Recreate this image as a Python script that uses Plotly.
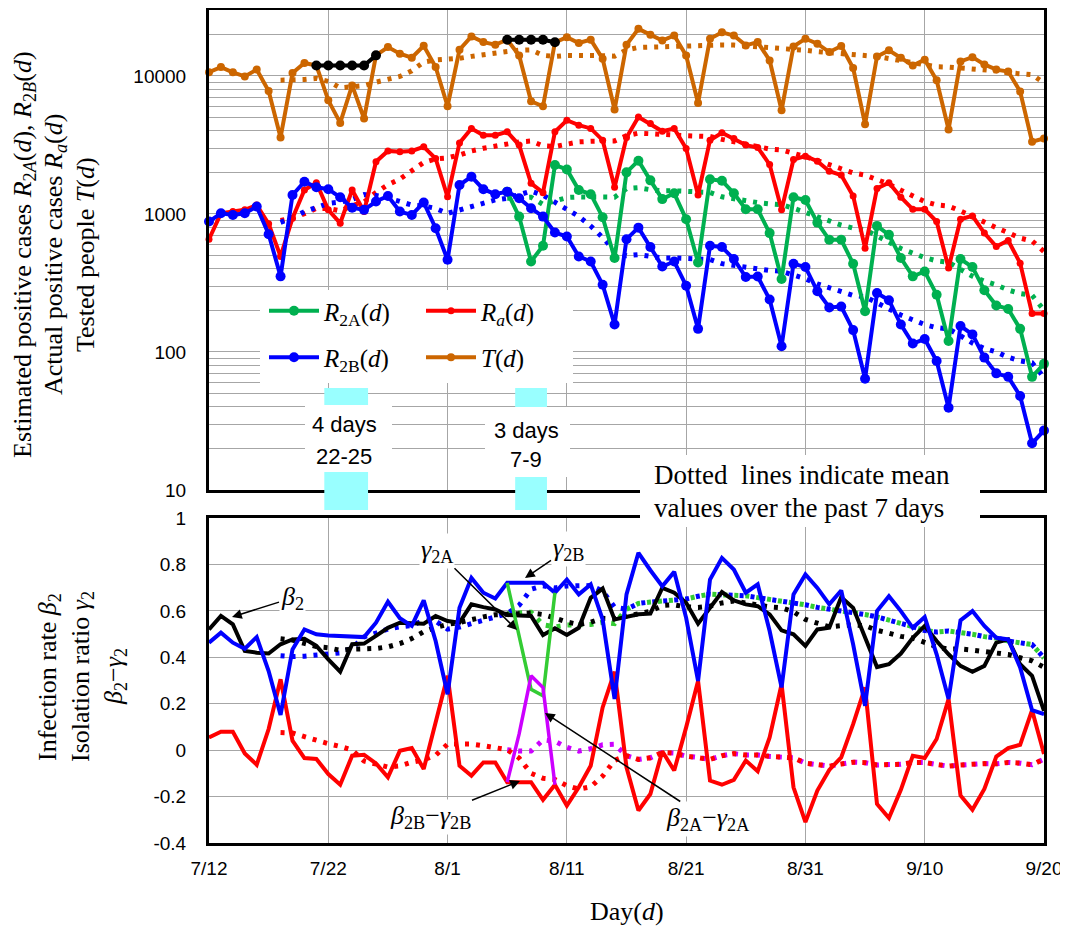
import pandas as pd
import plotly.graph_objects as go

# ---------------- data ----------------
DATES = [d.strftime("%Y-%m-%d") for d in pd.date_range("2020-07-12", "2020-09-20", freq="D")]
TICK_DATES = ["2020-07-12", "2020-07-22", "2020-08-01", "2020-08-11",
              "2020-08-21", "2020-08-31", "2020-09-10", "2020-09-20"]
TICK_LABELS = ["7/12", "7/22", "8/1", "8/11", "8/21", "8/31", "9/10", "9/20"]
TOP_TICKS = [10, 100, 1000, 10000]
TOP_TICK_LABELS = ["10", "100", "1000", "10000"]
BOT_TICKS = [-0.4, -0.2, 0, 0.2, 0.4, 0.6, 0.8, 1]
BOT_TICK_LABELS = ["-0.4", "-0.2", "0", "0.2", "0.4", "0.6", "0.8", "1"]

N = None
# Tested people T(d)
T = [10640, 11580, 10600, 9910, 11100, 7770, 3580, 10480, 12400, 11900,
     6650, 4560, 8530, 4910, 14080, 16150, 14470, 13530, 16500, 11600,
     6020, 15460, 19280, 17560, 16810, 18280, 14060, 6540, 6020, 17500,
     19080, 17300, 18300, 13300, 5700, 16800, 21900, 19850, 18000, 19600,
     14060, 6370, 18590, 20690, 19600, 16620, 17560, 12940, 5630, 16330,
     18590, 17100, 14880, 16440, 11400, 4470, 13820, 15300, 13530, 11900,
     13100, 9300, 4090, 12720, 13660, 12100, 11100, 10760, 7710, 3330, 3520]
T_MEAN = [N] * 6 + [
    9311, 9289, 9406, 9591, 9126, 8191, 8300, 8490, 9004, 9540,
    9907, 10890, 12596, 13034, 13193, 13390, 13837, 14279, 14747, 15001,
    15353, 15427, 14079, 13824, 14041, 14111, 14114, 14006, 13886, 15426,
    16054, 16164, 16264, 16450, 16559, 16654, 16910, 16737, 16701, 16504,
    16213, 16053, 15947, 15624, 15324, 14967, 14719, 14559, 14339, 14173,
    13814, 13344, 12834, 12409, 11931, 11631, 11577, 11420, 11186, 10981,
    10867, 10533, 10306, 10197, 8883]
# T(d) held over the holiday periods (black)
T_HOLD = [N] * 9 + [11900, 11900, 11900, 11900, 11900, 14080] + [N] * 10 + \
         [18280, 18280, 18280, 18280, 17500] + [N] * 41

# Actual positive cases Ra(d)
RA = [656, 1010, 1040, 1070, 1160, 847, 492, 930, 1490, 1680,
      1070, 857, 1490, 1040, 2390, 2860, 2815, 2860, 3060, 2520,
      1330, 3270, 4150, 3720, 3720, 3930, 3150, 1666, 1425, 3930,
      4770, 4390, 4160, 3420, 1560, 3580, 5040, 4510, 3970, 4160,
      2980, 1370, 3420, 3870, 3520, 3150, 3030, 2280, 1070, 2480,
      2620, 2410, 2040, 1910, 1350, 565, 1530, 1680, 1320, 1080,
      1080, 880, 406, 915, 967, 726, 580, 642, 440, 190, 190]
RA_MEAN = [N] * 6 + [
    896, 936, 1004, 1096, 1096, 1052, 1144, 1222, 1431, 1627,
    1789, 2045, 2359, 2506, 2548, 2674, 2858, 2987, 3110, 3234,
    3324, 3372, 3109, 3077, 3227, 3323, 3356, 3394, 3379, 3687,
    3846, 3809, 3749, 3749, 3686, 3659, 3636, 3469, 3327, 3210,
    3049, 2949, 2906, 2771, 2593, 2434, 2276, 2116, 1983, 1911,
    1775, 1641, 1485, 1348, 1229, 1162, 1139, 1052, 950, 865,
    793, 731, 668, 637, 534]

# Estimated positive cases R2B(d)
R2B = [880, 1010, 983, 1010, 1130, 713, 353, 1370, 1710, 1560,
       1510, 1320, 1110, 1070, 1230, 1350, 1040, 983, 1210, 788,
       465, 1620, 1860, 1510, 1390, 1450, 1300, 1100, 956, 733,
       686, 492, 452, 307, 158, 656, 795, 575, 416, 452,
       302, 147, 588, 575, 471, 349, 352, 240, 110, 436,
       412, 275, 210, 213, 144, 64, 267, 237, 158, 115,
       124, 86, 39.5, 154, 134, 91, 70, 66, 48, 21.8, 27]
R2B_MEAN = [N] * 6 + [
    868, 938, 1038, 1121, 1192, 1219, 1276, 1379, 1359, 1307,
    1233, 1158, 1142, 1096, 1009, 1065, 1138, 1205, 1263, 1298,
    1371, 1461, 1367, 1206, 1088, 960, 817, 675, 541, 498,
    507, 491, 480, 480, 479, 478, 468, 436, 422, 412,
    398, 389, 384, 362, 339, 311, 291, 271, 257, 251,
    226, 201, 185, 171, 158, 150, 147, 131, 116, 106,
    100, 91.5, 86.1, 83.5, 65.4]

# Estimated positive cases R2A(d) (equal to R2B before 8/6)
R2A = [N] * 25 + [
    1450, 956, 452, 588, 2260, 2100, 1490, 1390, 947, 479,
    2000, 2430, 1750, 1280, 1410, 915, 445, 1780, 1740, 1410,
    1080, 1080, 726, 338, 1320, 1260, 865, 649, 649, 436,
    197, 819, 705, 479, 353, 383, 260, 120, 471, 412,
    280, 217, 205, 147, 66, 82]
R2A_MEAN = [N] * 25 + [
    1298, 1322, 1320, 1172, 1229, 1314, 1328, 1319, 1318, 1322,
    1524, 1548, 1498, 1468, 1471, 1466, 1461, 1430, 1331, 1283,
    1254, 1207, 1180, 1165, 1099, 1031, 953, 891, 830, 788,
    768, 696, 617, 562, 520, 482, 457, 446, 396, 354,
    326, 306, 281, 265, 257, 201]

# Infection rate beta2
BETA2 = [0.520, 0.578, 0.542, 0.427, 0.420, 0.416, 0.456, 0.477, 0.480, 0.449,
         0.391, 0.338, 0.456, 0.459, 0.492, 0.527, 0.549, 0.545, 0.545, 0.578,
         0.556, 0.549, 0.628, 0.616, 0.606, 0.582, 0.580, 0.578, 0.496, 0.525,
         0.496, 0.527, 0.656, 0.696, 0.563, 0.573, 0.585, 0.588, 0.699, 0.678,
         0.635, 0.545, 0.613, 0.681, 0.645, 0.628, 0.620, 0.585, 0.516, 0.499,
         0.449, 0.520, 0.527, 0.659, 0.613, 0.484, 0.358, 0.370, 0.416, 0.484,
         0.535, 0.470, 0.413, 0.363, 0.338, 0.363, 0.463, 0.477, 0.370, 0.320, 0.169]
BETA2_MEAN = [N] * 6 + [
    0.480, 0.474, 0.460, 0.446, 0.441, 0.430, 0.435, 0.436, 0.438, 0.445,
    0.459, 0.481, 0.510, 0.528, 0.542, 0.550, 0.564, 0.574, 0.583, 0.588,
    0.588, 0.591, 0.584, 0.569, 0.552, 0.541, 0.551, 0.568, 0.566, 0.577,
    0.585, 0.598, 0.623, 0.626, 0.617, 0.615, 0.620, 0.634, 0.642, 0.632,
    0.624, 0.617, 0.613, 0.596, 0.563, 0.545, 0.531, 0.536, 0.540, 0.536,
    0.516, 0.504, 0.490, 0.483, 0.466, 0.445, 0.435, 0.436, 0.431, 0.424,
    0.421, 0.412, 0.398, 0.385, 0.357]

# Isolation ratio gamma2B
GAMMA2B = [0.463, 0.506, 0.463, 0.437, 0.487, 0.341, 0.152, 0.434, 0.520, 0.499,
           0.494, 0.492, 0.489, 0.487, 0.549, 0.639, 0.568, 0.535, 0.645, 0.470,
           0.241, 0.613, 0.742, 0.678, 0.653, 0.721, 0.721, 0.721, 0.721, 0.678,
           0.735, 0.671, 0.714, 0.563, 0.220, 0.671, 0.850, 0.775, 0.706, 0.768,
           0.570, 0.298, 0.735, 0.828, 0.778, 0.678, 0.714, 0.513, 0.270, 0.671,
           0.757, 0.699, 0.628, 0.688, 0.456, 0.191, 0.599, 0.663, 0.599, 0.527,
           0.573, 0.413, 0.220, 0.559, 0.599, 0.535, 0.484, 0.477, 0.356, 0.172, 0.155]
GAMMA2B_MEAN = [N] * 6 + [
    0.407, 0.403, 0.405, 0.410, 0.418, 0.419, 0.440, 0.488, 0.504, 0.521,
    0.531, 0.537, 0.559, 0.556, 0.521, 0.530, 0.545, 0.561, 0.577, 0.588,
    0.624, 0.693, 0.708, 0.699, 0.707, 0.710, 0.709, 0.686, 0.615, 0.607,
    0.632, 0.638, 0.643, 0.650, 0.651, 0.663, 0.672, 0.669, 0.669, 0.665,
    0.657, 0.649, 0.645, 0.636, 0.626, 0.615, 0.607, 0.604, 0.596, 0.584,
    0.574, 0.561, 0.546, 0.532, 0.515, 0.509, 0.513, 0.508, 0.499, 0.489,
    0.483, 0.470, 0.461, 0.455, 0.397]

# Isolation ratio gamma2A (differs from gamma2B only around 8/7-8/9)
GAMMA2A = [N] * 25 + [0.721, 0.490, 0.262, 0.234, 0.678] + [N] * 41
GAMMA2A_MEAN = [N] * 25 + [
    0.588, 0.591, 0.594, 0.540, 0.531, 0.539, 0.542, 0.541, 0.551, 0.545,
    0.607, 0.632, 0.638, 0.643, 0.650, 0.651, 0.663, 0.672, 0.669, 0.669,
    0.665, 0.657, 0.649, 0.645, 0.636, 0.626, 0.615, 0.607, 0.604, 0.596,
    0.584, 0.574, 0.561, 0.546, 0.532, 0.515, 0.509, 0.513, 0.508, 0.499,
    0.489, 0.483, 0.470, 0.461, 0.455, 0.397]

# beta2B - gamma2B
DIFF_B = [0.055, 0.079, 0.079, -0.014, -0.063, 0.091, 0.305, 0.041, -0.034, -0.038,
          -0.103, -0.149, -0.024, -0.020, -0.057, -0.117, -0.003, 0.009, -0.081, 0.112,
          0.320, -0.067, -0.110, -0.053, -0.053, -0.138, -0.138, -0.138, -0.214, -0.149,
          -0.239, -0.160, -0.067, 0.184, 0.338, -0.074, -0.260, -0.189, -0.005, -0.088,
          0.098, 0.298, -0.131, -0.149, -0.128, -0.045, -0.091, 0.055, 0.284, -0.160,
          -0.310, -0.174, -0.085, -0.031, 0.112, 0.270, -0.232, -0.292, -0.171, -0.024,
          -0.034, 0.048, 0.220, -0.195, -0.257, -0.167, -0.028, 0.009, 0.023, 0.172, -0.017]
DIFF_B_MEAN = [N] * 6 + [
    0.076, 0.074, 0.058, 0.041, 0.028, 0.016, -0.000, -0.047, -0.061, -0.073,
    -0.068, -0.052, -0.042, -0.022, 0.026, 0.025, 0.026, 0.019, 0.010, 0.002,
    -0.034, -0.100, -0.121, -0.126, -0.153, -0.168, -0.158, -0.112, -0.044, -0.024,
    -0.040, -0.033, -0.010, -0.013, -0.026, -0.031, -0.040, -0.024, -0.015, -0.021,
    -0.021, -0.027, -0.029, -0.033, -0.056, -0.063, -0.069, -0.060, -0.052, -0.054,
    -0.064, -0.062, -0.061, -0.053, -0.053, -0.062, -0.069, -0.064, -0.059, -0.058,
    -0.059, -0.053, -0.056, -0.063, -0.038]

# beta2A - gamma2A
DIFF_A = [N] * 25 + [-0.138, 0.070, 0.320, 0.270, -0.149] + [N] * 41
DIFF_A_MEAN = [N] * 25 + [
    0.002, -0.004, -0.004, 0.044, 0.038, 0.012, -0.004, 0.006, 0.023, 0.025,
    -0.024, -0.040, -0.033, -0.010, -0.013, -0.026, -0.031, -0.040, -0.024, -0.015,
    -0.021, -0.021, -0.027, -0.029, -0.033, -0.056, -0.063, -0.069, -0.060, -0.052,
    -0.054, -0.064, -0.062, -0.061, -0.053, -0.053, -0.062, -0.069, -0.064, -0.059,
    -0.058, -0.059, -0.053, -0.056, -0.063, -0.038]

HOLIDAYS = [("2020-07-22", "2020-07-25", "4 days", "22-25"),
            ("2020-08-07", "2020-08-09", "3 days", "7-9")]

# ---------------- styling ----------------
OFF = 8                      # page body margin
W, H = 1068 - OFF, 927 - OFF
ML, MR, MT, MB = 209 - OFF, 24, 10 - OFF, 84
PW, PH = W - ML - MR, H - MT - MB


def px(x):   # screen pixel -> paper fraction
    return (x - OFF - ML) / PW


def py(y):
    return (OFF + MT + PH - y) / PH


ORANGE = "#CC6600"
GREEN = "#00B050"
RED = "#FF0000"
BLUE = "#0000FF"
LGREEN = "#33CC33"
MAGENTA = "#CC00FF"
CYAN = "#99FFFF"
GRID = "#A6A6A6"
SERIF = "Liberation Serif, Times New Roman, serif"
SANS = "Liberation Sans, Arial, sans-serif"
DOT = "4px,7px"

fig = go.Figure()


def top(y, color, name=None, mode="lines+markers", size=9, width=4, dash=None,
        legend=False, which="legend", group=None, rank=1000):
    fig.add_trace(go.Scatter(
        x=DATES, y=y, mode=mode, name=name, showlegend=legend, legend=which,
        legendgroup=group, legendrank=rank,
        line=dict(color=color, width=width, dash=dash),
        marker=dict(color=color, size=size), cliponaxis=False,
        xaxis="x", yaxis="y", hoverinfo="skip"))


def bot(y, color, width=4, dash=None):
    fig.add_trace(go.Scatter(
        x=DATES, y=y, mode="lines", showlegend=False,
        line=dict(color=color, width=width, dash=dash),
        xaxis="x2", yaxis="y2", hoverinfo="skip"))


# top panel: means (dotted) then daily values
top(T_MEAN, ORANGE, mode="lines", width=5, dash=DOT)
top(RA_MEAN, RED, mode="lines", width=5, dash=DOT)
top(R2B_MEAN, BLUE, mode="lines", width=5, dash=DOT)
top(R2A_MEAN, GREEN, mode="lines", width=5, dash=DOT)
top(T, ORANGE, name="<i>T</i>(<i>d</i>)", size=8, legend=True, which="legend2",
    group="t", rank=4)
top(T_HOLD, "#000000", size=10)
top(RA, RED, name="<i>R<sub>a</sub></i>(<i>d</i>)", size=7, legend=True, which="legend2",
    group="ra", rank=3)
top(R2A, GREEN, name="<i>R</i><sub>2A</sub>(<i>d</i>)", size=10, legend=True, which="legend",
    group="a", rank=1)
top(R2B, BLUE, name="<i>R</i><sub>2B</sub>(<i>d</i>)", size=10, legend=True, which="legend",
    group="b", rank=2)

# bottom panel
bot(GAMMA2A_MEAN, LGREEN, width=5, dash=DOT)
bot(GAMMA2B_MEAN, BLUE, width=5, dash=DOT)
bot(BETA2_MEAN, "#000000", width=5, dash=DOT)
bot(DIFF_A_MEAN, MAGENTA, width=5, dash=DOT)
bot(DIFF_B_MEAN, RED, width=5, dash=DOT)
bot(BETA2, "#000000", width=4)
bot(DIFF_B, RED, width=4)
bot(GAMMA2B, BLUE, width=4)
bot(GAMMA2A, LGREEN, width=3.5)
bot(DIFF_A, MAGENTA, width=3.5)

# grid values for log axis (labels only at decades)
log_grid = [m * 10 ** e for e in range(1, 5) for m in range(1, 10) if m * 10 ** e <= 30000]
log_text = [TOP_TICK_LABELS[TOP_TICKS.index(v)] if v in TOP_TICKS else "" for v in log_grid]

axis_common = dict(showline=True, mirror=True, linecolor="#000000", linewidth=3,
                   showgrid=True, gridcolor=GRID, gridwidth=1, zeroline=False,
                   automargin=False, ticks="",
                   tickfont=dict(family=SANS, size=19, color="#000000"))

legend_common = dict(orientation="v", yanchor="top", xanchor="left",
                     bgcolor="rgba(0,0,0,0)", itemwidth=50, tracegroupgap=11,
                     traceorder="grouped",
                     font=dict(family=SERIF, size=25, color="#000000"))

fig.update_layout(
    template="none",
    width=W, height=H,
    margin=dict(l=ML, r=MR, t=MT, b=MB, autoexpand=False),
    paper_bgcolor="white", plot_bgcolor="white",
    font=dict(family=SERIF, color="#000000"),
    xaxis=dict(domain=[0, 1], anchor="y", type="date", matches="x2",
               range=[DATES[0], DATES[-1]], tickvals=TICK_DATES, ticktext=TICK_LABELS,
               showticklabels=False, **axis_common),
    yaxis=dict(domain=[py(490), py(10)], anchor="x", type="log",
               range=[1, 4.4771], tickvals=log_grid, ticktext=log_text,
               ticklabelstandoff=16, **axis_common),
    xaxis2=dict(domain=[0, 1], anchor="y2", type="date",
                range=[DATES[0], DATES[-1]], tickvals=TICK_DATES, ticktext=TICK_LABELS,
                ticklabelstandoff=6, **axis_common),
    yaxis2=dict(domain=[0, py(518)], anchor="x2", range=[-0.4, 1],
                tickvals=BOT_TICKS, ticktext=BOT_TICK_LABELS,
                ticklabelstandoff=16, **axis_common),
    legend=dict(x=px(264), y=py(288), **legend_common),
    legend2=dict(x=px(421), y=py(288), **legend_common),
    showlegend=True,
)

shapes = []
annotations = []
# legend background box
shapes.append(dict(type="rect", xref="paper", yref="paper", layer="above",
                   x0=px(260), x1=px(573), y0=py(383), y1=py(290),
                   fillcolor="white", line=dict(width=0)))
# holiday bands and label boxes
label_boxes = [(305, 392, 405, 472, 344, 425, 456), (485, 570, 407, 477, 526, 430, 460)]
for (start, end, l1, l2), (bx0, bx1, by0, by1, cx, ly1, ly2) in zip(HOLIDAYS, label_boxes):
    shapes.append(dict(type="rect", xref="x", yref="paper", layer="above",
                       x0=pd.Timestamp(start) - pd.Timedelta(hours=8),
                       x1=pd.Timestamp(end) + pd.Timedelta(hours=8),
                       y0=py(510), y1=py(388), fillcolor=CYAN, line=dict(width=0)))
    shapes.append(dict(type="rect", xref="paper", yref="paper", layer="above",
                       x0=px(bx0), x1=px(bx1), y0=py(by1), y1=py(by0),
                       fillcolor="white", line=dict(width=0)))
    for txt, ly in ((l1, ly1), (l2, ly2)):
        annotations.append(dict(text=txt, xref="paper", yref="paper", x=px(cx), y=py(ly),
                                showarrow=False, xanchor="center", yanchor="middle",
                                font=dict(family=SANS, size=22, color="#000000")))
# note box
shapes.append(dict(type="rect", xref="paper", yref="paper", layer="above",
                   x0=px(640), x1=px(980), y0=py(527), y1=py(455),
                   fillcolor="white", line=dict(width=0)))
for txt, ly in (("Dotted&nbsp; lines indicate mean", 475), ("values over the past 7 days", 508)):
    annotations.append(dict(text=txt, xref="paper", yref="paper", x=px(652), y=py(ly),
                            showarrow=False, xanchor="left", yanchor="middle",
                            font=dict(family=SERIF, size=27, color="#000000")))

# y-axis titles (one annotation per line)
for txt, cx in (("Estimated positive cases <i>R</i><sub>2<i>A</i></sub>(<i>d</i>), "
                 "<i>R</i><sub>2<i>B</i></sub>(<i>d</i>)", 24),
                ("Actual positive cases <i>R<sub>a</sub></i>(<i>d</i>)", 55),
                ("Tested people <i>T</i>(<i>d</i>)", 86)):
    annotations.append(dict(text=txt, xref="paper", yref="paper", x=px(cx), y=py(255),
                            textangle=-90, showarrow=False, xanchor="center", yanchor="middle",
                            font=dict(family=SERIF, size=26, color="#000000")))
for txt, cx in (("Infection rate <i>β</i><sub>2</sub>", 49),
                ("Isolation ratio <i>γ</i><sub>2</sub>", 82),
                ("<i>β</i><sub>2</sub>−<i>γ</i><sub>2</sub>", 115)):
    annotations.append(dict(text=txt, xref="paper", yref="paper", x=px(cx), y=py(677),
                            textangle=-90, showarrow=False, xanchor="center", yanchor="middle",
                            font=dict(family=SERIF, size=26, color="#000000")))
# x-axis title
annotations.append(dict(text="Day(<i>d</i>)", xref="paper", yref="paper", x=px(627), y=py(912),
                        showarrow=False, xanchor="center", yanchor="middle",
                        font=dict(family=SERIF, size=26, color="#000000")))

# arrow labels in the bottom panel: (text, head_x, head_y, text_x, text_y)
ARROW_LABELS = [
    ("<i>β</i><sub>2</sub>", 232, 617, 292, 598),
    ("<i>γ</i><sub>2A</sub>", 517, 630, 437, 551),
    ("<i>γ</i><sub>2B</sub>", 525, 578, 568, 549),
    ("<i>β</i><sub>2B</sub>−<i>γ</i><sub>2B</sub>", 520, 781, 430, 817),
    ("<i>β</i><sub>2A</sub>−<i>γ</i><sub>2A</sub>", 545, 713, 707, 819),
]
for txt, hx, hy, tx, ty in ARROW_LABELS:
    annotations.append(dict(text=txt, xref="paper", yref="paper", x=px(hx), y=py(hy),
                            ax=tx - hx, ay=ty - hy, showarrow=True, arrowhead=2,
                            arrowsize=1.3, arrowwidth=1.5, arrowcolor="#000000",
                            bgcolor="white", borderpad=1,
                            font=dict(family=SERIF, size=26, color="#000000")))

fig.update_layout(shapes=shapes, annotations=annotations)
fig.write_html("out.html")
